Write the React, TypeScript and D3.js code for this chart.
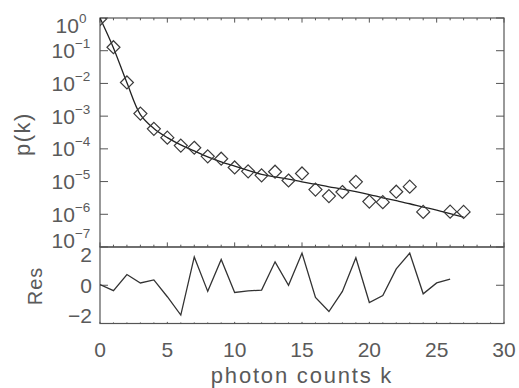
import React from "react";
import * as d3 from "d3";

// ---- data ----
const pointK = [0, 1, 2, 3, 4, 5, 6, 7, 8, 9, 10, 11, 12, 13, 14, 15, 16, 17, 18, 19, 20, 21, 22, 23, 24, 26, 27];
const pointP = [
  0.93, 0.128, 1.07e-2, 1.2e-3, 4.1e-4, 2.2e-4, 1.26e-4, 1.08e-4, 5.9e-5, 5.0e-5,
  2.7e-5, 2.05e-5, 1.55e-5, 2.0e-5, 1.08e-5, 1.77e-5, 5.7e-6, 3.6e-6, 4.8e-6, 9.8e-6,
  2.44e-6, 2.35e-6, 4.9e-6, 7.0e-6, 1.18e-6, 1.2e-6, 1.18e-6,
];
const fitK = [0, 1, 2, 3, 4, 5, 6, 7, 8, 9, 10, 11, 12, 13, 14, 15, 16, 17, 18, 19, 20, 21, 22, 23, 24, 25, 26, 27];
const fitP = [
  1.0, 0.122, 1.05e-2, 1.12e-3, 4.2e-4, 2.2e-4, 1.32e-4, 8.7e-5, 5.7e-5, 4.0e-5,
  2.95e-5, 2.2e-5, 1.66e-5, 1.4e-5, 1.18e-5, 9.8e-6, 8.3e-6, 6.9e-6, 5.9e-6, 4.9e-6,
  4.0e-6, 3.2e-6, 2.6e-6, 2.1e-6, 1.66e-6, 1.35e-6, 1.05e-6, 8.2e-7,
];
const resK = [0, 1, 2, 3, 4, 5, 6, 7, 8, 9, 10, 11, 12, 13, 14, 15, 16, 17, 18, 19, 20, 21, 22, 23, 24, 25, 26];
const resV = [
  0.05, -0.35, 0.7, 0.15, 0.35, -0.75, -1.95, 1.85, -0.4, 1.68, -0.47, -0.37, -0.32, 1.53,
  0.0, 2.1, -0.8, -1.72, -0.4, 1.8, -1.13, -0.67, 1.07, 2.1, -0.56, 0.15, 0.4,
];
const xTicks = [0, 5, 10, 15, 20, 25, 30];
const yExponents = [0, -1, -2, -3, -4, -5, -6, -7];
const resTickLabels = [2, 0, -2];
const resTickMarks = [0];

// ---- layout ----
const left = 100;
const right = 504;
const top = 18;
const mid = 247;
const bottom = 323.5;
const font = "'Liberation Sans', Arial, sans-serif";
const textColor = "#5a5a5a";
const axisColor = "#555";

export default function App() {
  const x = d3.scaleLinear().domain([0, 30]).range([left, right]);
  const y = d3.scaleLog().domain([1e-7, 1]).range([mid, top]);
  const yr = d3.scaleLinear().domain([-2.5, 2.5]).range([bottom, mid]);

  const fitLine = d3
    .line<number>()
    .x((_, i) => x(fitK[i]))
    .y((d) => y(d))
    .curve(d3.curveCatmullRom.alpha(0.5));
  const resLine = d3
    .line<number>()
    .x((_, i) => x(resK[i]))
    .y((d) => yr(d));

  const minor = d3.range(0, 31, 1);
  const mainTickLen = 4.6;
  const resTickLen = 1.6;
  const yTickLen = 8;
  const d = 6.5;

  const labelOffset = (e: number) => (e === 0 ? 7.5 : e === -7 ? -6.5 : 0);

  return (
    <svg width={519} height={388} style={{ position: "absolute", left: 0, top: 0, background: "#fff" }}>
      <defs>
        <clipPath id="mainclip">
          <rect x={left} y={top} width={right - left} height={mid - top} />
        </clipPath>
        <clipPath id="resclip">
          <rect x={left} y={mid} width={right - left} height={bottom - mid} />
        </clipPath>
      </defs>

      {/* frames */}
      <rect x={left} y={top} width={right - left} height={mid - top} fill="none" stroke={axisColor} strokeWidth={1.2} />
      <rect x={left} y={mid} width={right - left} height={bottom - mid} fill="none" stroke={axisColor} strokeWidth={1.2} />

      {/* x ticks */}
      {minor.map((v) => {
        const major = v % 5 === 0;
        const l1 = major ? mainTickLen : mainTickLen / 2;
        const l2 = major ? resTickLen : resTickLen / 1.5;
        return (
          <g key={"xt" + v} stroke={axisColor} strokeWidth={1}>
            <line x1={x(v)} x2={x(v)} y1={top} y2={top + l1} />
            <line x1={x(v)} x2={x(v)} y1={mid} y2={mid - l1} />
            <line x1={x(v)} x2={x(v)} y1={bottom} y2={bottom - l2} />
          </g>
        );
      })}

      {/* y ticks main */}
      {yExponents.map((e) => {
        const yy = y(Math.pow(10, e));
        return (
          <g key={"yt" + e} stroke={axisColor} strokeWidth={1}>
            <line x1={left} x2={left + yTickLen} y1={yy} y2={yy} />
            <line x1={right} x2={right - yTickLen} y1={yy} y2={yy} />
          </g>
        );
      })}
      {yExponents.map((e) => {
        const yy = y(Math.pow(10, e)) + 7.5 + labelOffset(e);
        return (
          <text key={"yl" + e} x={71} y={yy} textAnchor="middle" fontFamily={font} fontSize={21} fill={textColor}>
            10
            <tspan fontSize={13.5} dy={-10}>
              {e === 0 ? "0" : "\u2212" + Math.abs(e)}
            </tspan>
          </text>
        );
      })}

      {/* residual ticks */}
      {resTickMarks.map((v) => (
        <g key={"rt" + v} stroke={axisColor} strokeWidth={1}>
          <line x1={left} x2={left + yTickLen} y1={yr(v)} y2={yr(v)} />
          <line x1={right} x2={right - yTickLen} y1={yr(v)} y2={yr(v)} />
        </g>
      ))}
      {resTickLabels.map((v) => (
        <text key={"rl" + v} x={92} y={yr(v) + 7.5} textAnchor="end" fontFamily={font} fontSize={21} fill={textColor}>
          {v < 0 ? "\u2212" + Math.abs(v) : String(v)}
        </text>
      ))}

      {/* x tick labels */}
      {xTicks.map((v) => (
        <text key={"xl" + v} x={x(v)} y={357} textAnchor="middle" fontFamily={font} fontSize={21} fill={textColor}>
          {v}
        </text>
      ))}

      {/* axis titles */}
      <text x={302} y={383} textAnchor="middle" fontFamily={font} fontSize={22} letterSpacing={1.8} fill={textColor}>
        photon counts k
      </text>
      <text transform="translate(30,134) rotate(-90)" textAnchor="middle" fontFamily={font} fontSize={22} letterSpacing={1.5} fill={textColor}>
        p(k)
      </text>
      <text transform="translate(42,286) rotate(-90)" textAnchor="middle" fontFamily={font} fontSize={20} letterSpacing={1} fill={textColor}>
        Res
      </text>

      {/* data */}
      <g clipPath="url(#mainclip)">
        <path d={fitLine(fitP) || ""} fill="none" stroke="#222" strokeWidth={1.3} />
        {pointP.map((p, i) => {
          const cx = x(pointK[i]);
          const cy = y(p);
          return (
            <path
              key={"pt" + i}
              d={`M${cx},${cy - d}L${cx + d},${cy}L${cx},${cy + d}L${cx - d},${cy}Z`}
              fill="none"
              stroke="#3a3a3a"
              strokeWidth={1.2}
            />
          );
        })}
      </g>
      <g clipPath="url(#resclip)">
        <path d={resLine(resV) || ""} fill="none" stroke="#333" strokeWidth={1.3} />
      </g>
    </svg>
  );
}
